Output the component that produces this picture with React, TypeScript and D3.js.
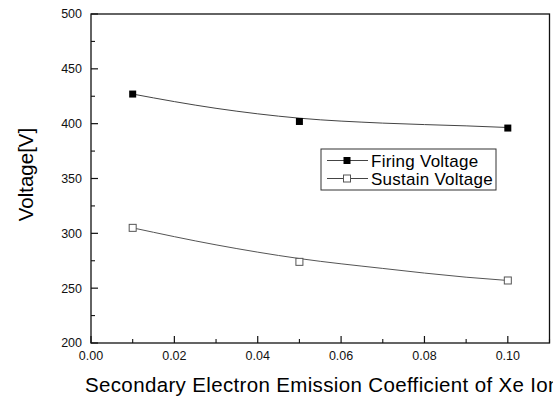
import React from "react";
import * as d3 from "d3";

const xPoints = [0.01, 0.05, 0.10];
const firingVoltage = [427, 402, 396];
const sustainVoltage = [305, 274, 257];

const fitX = [0.01, 0.03, 0.05, 0.07, 0.09, 0.10];
const firingFit = [427, 414, 405, 400.5, 398, 396.5];
const sustainFit = [305, 289.5, 277, 268, 260, 257];

const xTicks = [0, 0.02, 0.04, 0.06, 0.08, 0.1];
const xMinor = [0.01, 0.03, 0.05, 0.07, 0.09, 0.11];
const yTicks = [200, 250, 300, 350, 400, 450, 500];
const yMinor = [225, 275, 325, 375, 425, 475];

const legendLabels = ["Firing Voltage", "Sustain Voltage"];

const W = 553;
const H = 397;
const FONT = "'Liberation Sans', Arial, sans-serif";

export default function App() {
  const x = d3.scaleLinear().domain([0, 0.11]).range([91, 549.5]);
  const y = d3.scaleLinear().domain([200, 500]).range([343, 14]);

  const line = d3
    .line<[number, number]>()
    .x((d) => x(d[0]))
    .y((d) => y(d[1]))
    .curve(d3.curveMonotoneX);

  const firingPath = line(fitX.map((v, i) => [v, firingFit[i]]) as [number, number][]) || "";
  const sustainPath = line(fitX.map((v, i) => [v, sustainFit[i]]) as [number, number][]) || "";

  const [x0, x1] = x.range();
  const [y0, y1] = y.range();
  const ms = 7;

  const legendX = 321;
  const legendY = 149;
  const rowY = [160.5, 178.5];

  return (
    <svg
      width={W}
      height={H}
      style={{ position: "absolute", left: 0, top: 0, background: "#fff" }}
      fontFamily={FONT}
    >
      <rect x={0} y={0} width={W} height={H} fill="#fff" />
      {/* frame */}
      <rect x={x0} y={y1} width={x1 - x0} height={y0 - y1} fill="none" stroke="#111" strokeWidth={1.3} />

      {/* y ticks */}
      {yTicks.map((t) => (
        <g key={"yt" + t}>
          <line x1={x0} x2={x0 + 7} y1={y(t)} y2={y(t)} stroke="#111" strokeWidth={1.2} />
          <text x={82} y={y(t)} dy="0.35em" textAnchor="end" fontSize={12.5} fill="#111">
            {t}
          </text>
        </g>
      ))}
      {yMinor.map((t) => (
        <line key={"ym" + t} x1={x0} x2={x0 + 4} y1={y(t)} y2={y(t)} stroke="#111" strokeWidth={1.1} />
      ))}

      {/* x ticks */}
      {xTicks.map((t) => (
        <g key={"xt" + t}>
          <line x1={x(t)} x2={x(t)} y1={y0} y2={y0 - 7} stroke="#111" strokeWidth={1.2} />
          <text x={x(t)} y={360} textAnchor="middle" fontSize={12.5} fill="#111">
            {d3.format(".2f")(t)}
          </text>
        </g>
      ))}
      {xMinor.map((t) => (
        <line key={"xm" + t} x1={x(t)} x2={x(t)} y1={y0} y2={y0 - 4} stroke="#111" strokeWidth={1.1} />
      ))}

      {/* axis titles */}
      <text x={85} y={391.5} fontSize={20.5} letterSpacing={0.35} fill="#000">
        Secondary Electron Emission Coefficient of Xe Ion
      </text>
      <text
        transform={`translate(33,174.5) rotate(-90)`}
        textAnchor="middle"
        fontSize={20.5}
        fill="#000"
      >
        Voltage[V]
      </text>

      {/* curves */}
      <path d={firingPath} fill="none" stroke="#444" strokeWidth={1} />
      <path d={sustainPath} fill="none" stroke="#555" strokeWidth={1} />

      {/* markers */}
      {xPoints.map((v, i) => (
        <rect
          key={"f" + i}
          x={x(v) - ms / 2}
          y={y(firingVoltage[i]) - ms / 2}
          width={ms}
          height={ms}
          fill="#000"
        />
      ))}
      {xPoints.map((v, i) => (
        <rect
          key={"s" + i}
          x={x(v) - ms / 2}
          y={y(sustainVoltage[i]) - ms / 2}
          width={ms}
          height={ms}
          fill="#fff"
          stroke="#555"
          strokeWidth={1}
        />
      ))}

      {/* legend */}
      <rect x={legendX} y={legendY} width={175} height={41} fill="#fff" stroke="#333" strokeWidth={1} />
      {legendLabels.map((lab, i) => (
        <g key={"lg" + i}>
          <line x1={327} x2={368} y1={rowY[i]} y2={rowY[i]} stroke="#444" strokeWidth={1} />
          <rect
            x={347 - ms / 2}
            y={rowY[i] - ms / 2}
            width={ms}
            height={ms}
            fill={i === 0 ? "#000" : "#fff"}
            stroke={i === 0 ? "none" : "#555"}
            strokeWidth={1}
          />
          <text x={371} y={rowY[i]} dy="0.36em" fontSize={17} letterSpacing={0.25} fill="#000">
            {lab}
          </text>
        </g>
      ))}
    </svg>
  );
}
